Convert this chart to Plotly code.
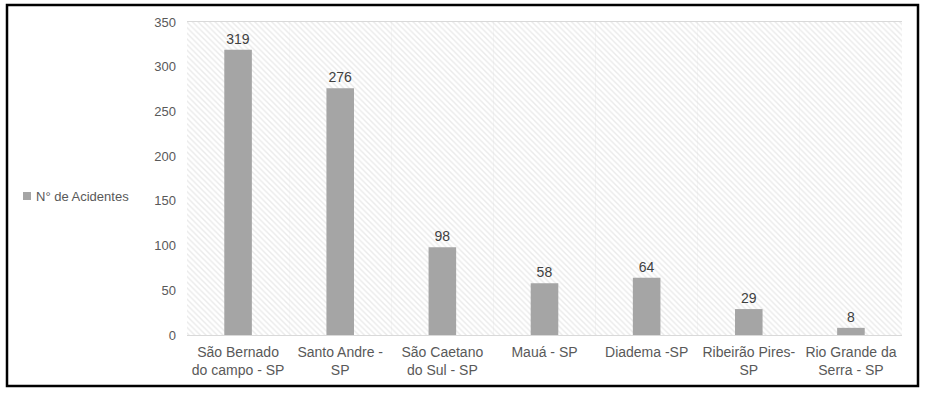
import plotly.graph_objects as go

categories = ["São Bernado<br>do campo - SP", "Santo Andre -<br>SP", "São Caetano<br>do Sul - SP",
              "Mauá - SP", "Diadema -SP", "Ribeirão Pires-<br>SP", "Rio Grande da<br>Serra - SP"]
acidentes = [319, 276, 98, 58, 64, 29, 8]
series_name = "N° de Acidentes"
y_max = 350
y_ticks = [0, 50, 100, 150, 200, 250, 300, 350]

W, H = 927, 395
L, R, T, B = 187, 25, 22, 60
pw, ph = W - L - R, H - T - B

def px(x):
    return (x - L) / pw

def py(y):
    return (H - B - y) / ph

fig = go.Figure()
# hatched plot-area background
fig.add_trace(go.Bar(
    x=categories, y=[y_max] * len(categories), width=1,
    marker=dict(color="white", line=dict(width=0),
                pattern=dict(shape="\\", fgcolor="#D6D6D6", bgcolor="white", size=4, solidity=0.35)),
    showlegend=False, hoverinfo="skip"))
fig.add_trace(go.Bar(
    x=categories, y=acidentes, name=series_name, width=0.27,
    marker=dict(color="#A5A5A5", line=dict(width=0)),
    text=acidentes, textposition="outside", cliponaxis=False, showlegend=False,
    textfont=dict(family="Liberation Sans, Arial", size=14, color="#404040")))

fig.update_layout(
    width=W, height=H, barmode="overlay",
    margin=dict(l=L, r=R, t=T, b=B, autoexpand=False),
    paper_bgcolor="white", plot_bgcolor="white",
    font=dict(family="Liberation Sans, Arial", size=13, color="#595959"),
    showlegend=False,
    xaxis=dict(type="category", tickson="boundaries", showgrid=True, gridcolor="#D9D9D9",
               gridwidth=1, ticks="", showline=True, linecolor="#D9D9D9", mirror=True,
               ticklabelstandoff=4,
               tickfont=dict(size=14, color="#595959"), layer="below traces", automargin=False),
    yaxis=dict(range=[0, y_max], tickvals=y_ticks, showgrid=True, gridcolor="#D9D9D9",
               zeroline=False, ticks="", showline=False, ticklabelstandoff=10, automargin=False,
               tickfont=dict(size=13, color="#595959")),
)
# legend entry (series key) at the left
fig.add_shape(type="rect", xref="paper", yref="paper",
              x0=px(23), x1=px(31), y0=py(200), y1=py(192),
              line=dict(width=0), fillcolor="#A5A5A5")
fig.add_annotation(text=series_name, xref="paper", yref="paper", x=px(34), y=py(196),
                   xanchor="left", yanchor="middle", showarrow=False,
                   font=dict(size=13, color="#595959"))
# outer black frame
fig.add_shape(type="rect", xref="paper", yref="paper",
              x0=px(7), x1=px(918), y0=py(386), y1=py(5),
              line=dict(color="black", width=2.5), fillcolor="rgba(0,0,0,0)", layer="above")
fig.write_html("out.html", config={"displayModeBar": False},
               post_script="document.body.style.margin='0px';")
